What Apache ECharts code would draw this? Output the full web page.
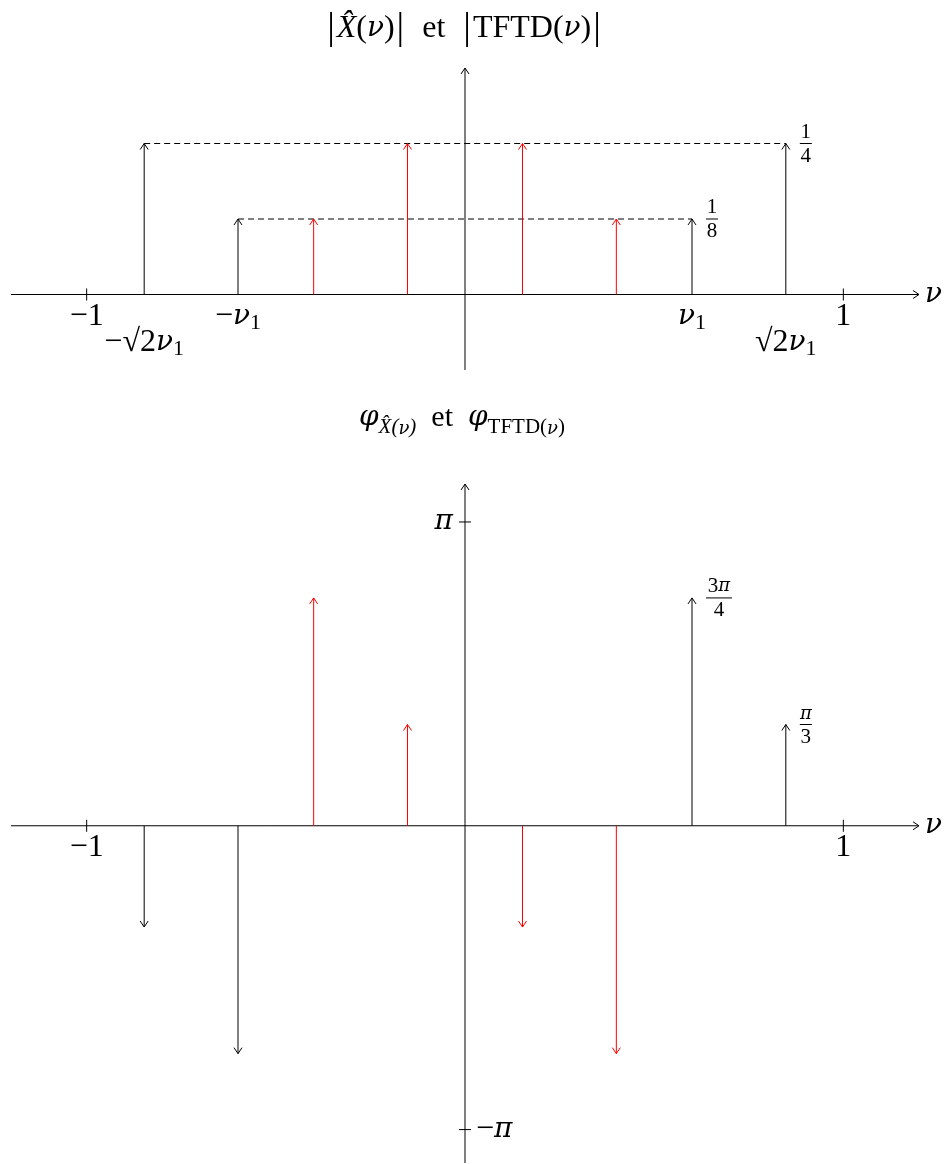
<!DOCTYPE html>
<html>
<head>
<meta charset="utf-8">
<script src="https://cdn.jsdelivr.net/npm/echarts@6/dist/echarts.min.js"></script>
<style>
html,body{margin:0;padding:0;background:#fff}
#chart{width:948px;height:1164px}
</style>
</head>
<body>
<div id="chart"></div>
<script>
// raies du signal (noir) et raies repliees (rouge), frequences en unites de nu
var freqNoir = [-0.848, -0.6, 0.6, 0.848];
var freqRouge = [-0.4, -0.152, 0.152, 0.4];
// modules
var modNoir = [0.25, 0.125, 0.125, 0.25];
var modRouge = [0.125, 0.25, 0.25, 0.125];
// phases en unites de pi
var phaseNoir = [-1/3, -3/4, 3/4, 1/3];
var phaseRouge = [3/4, 1/3, -1/3, -3/4];

// bornes des axes
var xMin = -1.2, xMax = 1.2;
var modMin = -0.125, modMax = 0.375;
var phMin = -1.11, phMax = 1.125;

// graduations et etiquettes
var ticksX = [-1, 1];
var ticksPhase = [-1, 1];
var etiqHautPos = [-1, -0.848, -0.6, 0.6, 0.848, 1];
var etiqHaut = ['{r|\u22121}', '{r|\u2212\u221A2}{i|\u03BD}{s|1}', '{r|\u2212}{i|\u03BD}{s|1}', '{i|\u03BD}{s|1}', '{r|\u221A2}{i|\u03BD}{s|1}', '{r|1}'];
var etiqBasPos = [-1, 1];
var etiqBas = ['{r|\u22121}', '{r|1}'];
var fracHaut = [[0.848, 0.25, '{r|1}', '{r|4}'], [0.6, 0.125, '{r|1}', '{r|8}']];
var fracBas = [[0.6, 3/4, '{r|3}{i|\u03C0}', '{r|4}'], [0.848, 1/3, '{i|\u03C0}', '{r|3}']];

var police = '"Liberation Serif", serif';
var grec = '"DejaVu Serif", serif';
var noir = '#000';
var rouge = '#ff0000';

var richTxt = {
    r: {fontFamily: police, fontSize: 32, lineHeight: 36, color: noir},
    i: {fontFamily: grec, fontSize: 28, fontStyle: 'italic', lineHeight: 36, color: noir},
    s: {fontFamily: police, fontSize: 22, lineHeight: 19, verticalAlign: 'bottom', color: noir}
};
var richFrac = {
    r: {fontFamily: police, fontSize: 21, color: noir},
    i: {fontFamily: grec, fontSize: 18, fontStyle: 'italic', color: noir}
};

var chart = echarts.init(document.getElementById('chart'));

// trait + pointe ouverte facon tikz
function fleche(p0, p1, couleur) {
    var dx = p1[0] - p0[0], dy = p1[1] - p0[1];
    var L = Math.sqrt(dx * dx + dy * dy) || 1;
    var ux = dx / L, uy = dy / L;
    var a = 6, b = 4;
    return [
        {type: 'line', shape: {x1: p0[0], y1: p0[1], x2: p1[0], y2: p1[1]}, style: {stroke: couleur, lineWidth: 1}},
        {type: 'polyline', shape: {points: [
            [p1[0] - ux * a - uy * b, p1[1] - uy * a + ux * b],
            [p1[0], p1[1]],
            [p1[0] - ux * a + uy * b, p1[1] - uy * a - ux * b]
        ]}, style: {stroke: couleur, fill: null, lineWidth: 1}}
    ];
}

function serieRaies(idx, xs, ys, couleur) {
    return {
        type: 'custom', xAxisIndex: idx, yAxisIndex: idx, silent: true, z: 3,
        data: xs.map(function (x, i) { return [x, ys[i]]; }),
        renderItem: function (params, api) {
            var p0 = api.coord([api.value(0), 0]);
            var p1 = api.coord([api.value(0), api.value(1)]);
            return {type: 'group', children: fleche(p0, p1, couleur)};
        }
    };
}

function serieAxes(idx, yMin, yMax) {
    return {
        type: 'custom', xAxisIndex: idx, yAxisIndex: idx, silent: true, z: 2,
        data: [[xMin, 0, xMax, 0], [0, yMin, 0, yMax]],
        renderItem: function (params, api) {
            var p0 = api.coord([api.value(0), api.value(1)]);
            var p1 = api.coord([api.value(2), api.value(3)]);
            return {type: 'group', children: fleche(p0, p1, noir)};
        }
    };
}

function serieTicks(idx, vals, vertical) {
    return {
        type: 'custom', xAxisIndex: idx, yAxisIndex: idx, silent: true, z: 2,
        data: vals.map(function (v) { return [v]; }),
        renderItem: function (params, api) {
            var v = api.value(0);
            var p = vertical ? api.coord([0, v]) : api.coord([v, 0]);
            var shape = vertical ? {x1: p[0] - 6, y1: p[1], x2: p[0] + 6, y2: p[1]}
                                 : {x1: p[0], y1: p[1] - 6, x2: p[0], y2: p[1] + 6};
            return {type: 'line', shape: shape, style: {stroke: noir, lineWidth: 1}};
        }
    };
}

function serieEtiquettes(idx, pos, textes) {
    return {
        type: 'custom', xAxisIndex: idx, yAxisIndex: idx, silent: true, z: 4,
        data: pos.map(function (v) { return [v]; }),
        renderItem: function (params, api) {
            var p = api.coord([api.value(0), 0]);
            var t = textes[params.dataIndex];
            var bas = t.indexOf('\u221A') >= 0;
            return {type: 'text', style: {
                x: p[0], y: p[1] + (bas ? 48 : 22), text: t, rich: richTxt,
                align: 'center', verticalAlign: 'middle'
            }};
        }
    };
}

function serieFractions(idx, fr) {
    return {
        type: 'custom', xAxisIndex: idx, yAxisIndex: idx, silent: true, z: 4,
        data: fr.map(function (f) { return [f[0], f[1]]; }),
        renderItem: function (params, api) {
            var p = api.coord([api.value(0), api.value(1)]);
            var f = fr[params.dataIndex];
            var w = f[2].length > 6 ? 26 : 12;
            var x0 = p[0] + 14;
            return {type: 'group', children: [
                {type: 'line', shape: {x1: x0, y1: p[1], x2: x0 + w, y2: p[1]}, style: {stroke: noir, lineWidth: 1}},
                {type: 'text', style: {x: x0 + w / 2, y: p[1] - 1, text: f[2], rich: richFrac, align: 'center', verticalAlign: 'bottom'}},
                {type: 'text', style: {x: x0 + w / 2, y: p[1] + 2, text: f[3], rich: richFrac, align: 'center', verticalAlign: 'top'}}
            ]};
        }
    };
}

// pointilles entre les raies noires de meme module
function serieTirets() {
    var d = [[freqNoir[0], freqNoir[3], modNoir[0]], [freqNoir[1], freqNoir[2], modNoir[1]]];
    return {
        type: 'custom', xAxisIndex: 0, yAxisIndex: 0, silent: true, z: 1,
        data: d,
        renderItem: function (params, api) {
            var p0 = api.coord([api.value(0), api.value(2)]);
            var p1 = api.coord([api.value(1), api.value(2)]);
            return {type: 'line', shape: {x1: p0[0], y1: p0[1], x2: p1[0], y2: p1[1]},
                style: {stroke: noir, lineWidth: 1, lineDash: [6, 4]}};
        }
    };
}

function serieTexteLibre(idx, x, y, dx, dy, texte, align) {
    return {
        type: 'custom', xAxisIndex: idx, yAxisIndex: idx, silent: true, z: 4,
        data: [[x, y]],
        renderItem: function (params, api) {
            var p = api.coord([api.value(0), api.value(1)]);
            return {type: 'text', style: {x: p[0] + dx, y: p[1] + dy, text: texte, rich: richTxt,
                align: align, verticalAlign: 'middle'}};
        }
    };
}

var option = {
    backgroundColor: '#fff',
    animation: false,
    grid: [
        {left: 11, right: 29, top: 68, height: 302},
        {left: 11, right: 29, top: 484, height: 679}
    ],
    xAxis: [
        {type: 'value', gridIndex: 0, min: xMin, max: xMax, show: false},
        {type: 'value', gridIndex: 1, min: xMin, max: xMax, show: false}
    ],
    yAxis: [
        {type: 'value', gridIndex: 0, min: modMin, max: modMax, show: false},
        {type: 'value', gridIndex: 1, min: phMin, max: phMax, show: false}
    ],
    graphic: [
        {type: 'text', x: 464, y: 29, style: {
            text: '{b||}{i|X\u0302}{r|(}{g|\u03BD}{r|)}{b||}{r|  et  }{b||}{r|TFTD(}{g|\u03BD}{r|)}{b||}',
            rich: {
                r: {fontFamily: police, fontSize: 32, lineHeight: 44, color: noir},
                b: {fontFamily: police, fontSize: 38, lineHeight: 44, color: noir, padding: [0, 2, 0, 2]},
                i: {fontFamily: police, fontSize: 32, fontStyle: 'italic', lineHeight: 44, color: noir},
                g: {fontFamily: grec, fontSize: 28, fontStyle: 'italic', lineHeight: 44, color: noir}
            },
            align: 'center', verticalAlign: 'middle'
        }},
        {type: 'text', x: 462, y: 418, style: {
            text: '{i|\u03C6}{s|X\u0302(}{sg|\u03BD}{s|)}{r|  et  }{i|\u03C6}{t|TFTD(}{tg|\u03BD}{t|)}',
            rich: {
                r: {fontFamily: police, fontSize: 30, lineHeight: 40, color: noir},
                i: {fontFamily: grec, fontSize: 28, fontStyle: 'italic', lineHeight: 40, color: noir},
                s: {fontFamily: police, fontSize: 21, fontStyle: 'italic', lineHeight: 8, verticalAlign: 'bottom', color: noir},
                sg: {fontFamily: grec, fontSize: 18, fontStyle: 'italic', lineHeight: 8, verticalAlign: 'bottom', color: noir},
                t: {fontFamily: police, fontSize: 21, lineHeight: 16, verticalAlign: 'bottom', color: noir},
                tg: {fontFamily: grec, fontSize: 18, fontStyle: 'italic', lineHeight: 16, verticalAlign: 'bottom', color: noir}
            },
            align: 'center', verticalAlign: 'middle'
        }}
    ],
    series: [
        serieTirets(),
        serieAxes(0, modMin, modMax),
        serieTicks(0, ticksX, false),
        serieRaies(0, freqNoir, modNoir, noir),
        serieRaies(0, freqRouge, modRouge, rouge),
        serieEtiquettes(0, etiqHautPos, etiqHaut),
        serieFractions(0, fracHaut),
        serieTexteLibre(0, xMax, 0, 6, 0, '{i|\u03BD}', 'left'),

        serieAxes(1, phMin, phMax),
        serieTicks(1, ticksX, false),
        serieTicks(1, ticksPhase, true),
        serieRaies(1, freqNoir, phaseNoir, noir),
        serieRaies(1, freqRouge, phaseRouge, rouge),
        serieEtiquettes(1, etiqBasPos, etiqBas),
        serieFractions(1, fracBas),
        serieTexteLibre(1, xMax, 0, 6, 0, '{i|\u03BD}', 'left'),
        serieTexteLibre(1, 0, ticksPhase[1], -12, 0, '{i|\u03C0}', 'right'),
        serieTexteLibre(1, 0, ticksPhase[0], 11, 0, '{r|\u2212}{i|\u03C0}', 'left')
    ]
};

chart.setOption(option);
</script>
</body>
</html>
